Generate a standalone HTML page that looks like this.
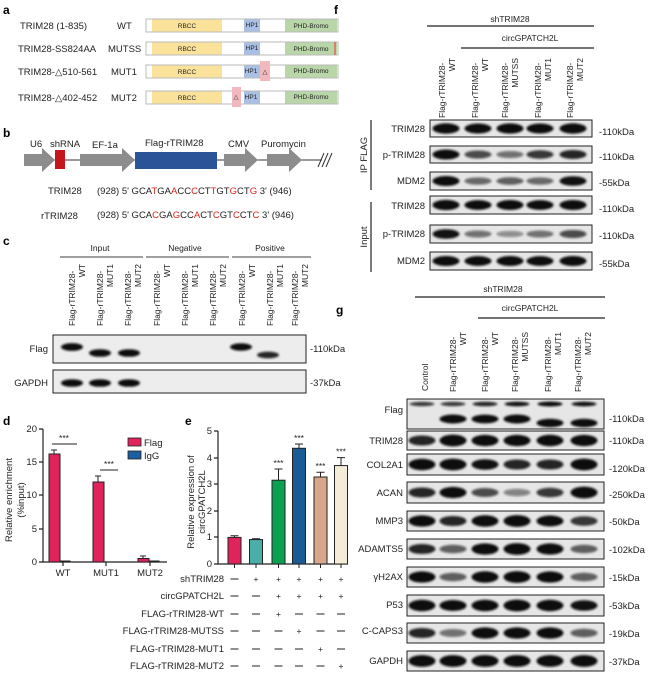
<!DOCTYPE html>
<html><head><meta charset="utf-8"><style>
html,body{margin:0;padding:0;background:#fff}
svg{display:block;font-family:"Liberation Sans",Arial,sans-serif}
.t{font-size:9.5px;fill:#222}
.s{font-size:8.5px;fill:#222}
.L{font-size:12px;font-weight:bold;fill:#000}
.r{text-anchor:end}
.m{text-anchor:middle}
</style></head><body>
<svg id="S" width="649" height="675" viewBox="0 0 649 675" xmlns="http://www.w3.org/2000/svg">
<defs><filter id="bl" x="-20%" y="-50%" width="140%" height="200%"><feGaussianBlur stdDeviation="1.1"/></filter></defs>
<!-- panel a -->
<text class="L" x="3" y="14">a</text>
<g class="t">
<text x="20" y="29">TRIM28 (1-835)</text><text x="117" y="29">WT</text>
<text x="18" y="52">TRIM28-SS824AA</text><text x="108" y="52">MUTSS</text>
<text x="18" y="75">TRIM28-△510-561</text><text x="111" y="75">MUT1</text>
<text x="18" y="101">TRIM28-△402-452</text><text x="111" y="101">MUT2</text>
</g>
<g>
<rect x="146" y="19" width="192" height="13" fill="#fff" stroke="#bbb"/>
<rect x="152" y="19.5" width="70" height="12" fill="#fbe29b"/><rect x="244" y="19.5" width="16" height="12" fill="#a9bfe3"/><rect x="285" y="19.5" width="52" height="12" fill="#b8d6a8"/>
<rect x="146" y="42" width="192" height="13" fill="#fff" stroke="#bbb"/>
<rect x="152" y="42.5" width="70" height="12" fill="#fbe29b"/><rect x="244" y="42.5" width="16" height="12" fill="#a9bfe3"/><rect x="285" y="42.5" width="52" height="12" fill="#b8d6a8"/>
<line x1="335" y1="42" x2="335" y2="55" stroke="#e33" stroke-width="1"/>
<rect x="146" y="65" width="192" height="13" fill="#fff" stroke="#bbb"/>
<rect x="152" y="65.5" width="70" height="12" fill="#fbe29b"/><rect x="244" y="65.5" width="16" height="12" fill="#a9bfe3"/><rect x="285" y="65.5" width="52" height="12" fill="#b8d6a8"/>
<rect x="260" y="61" width="10" height="20" fill="#f1b8bd"/>
<rect x="146" y="91" width="192" height="13" fill="#fff" stroke="#bbb"/>
<rect x="152" y="91.5" width="70" height="12" fill="#fbe29b"/><rect x="244" y="91.5" width="16" height="12" fill="#a9bfe3"/><rect x="285" y="91.5" width="52" height="12" fill="#b8d6a8"/>
<rect x="232" y="87" width="9" height="20" fill="#f1b8bd"/>
</g>
<g class="s m" style="font-size:6.5px">
<text x="187" y="28">RBCC</text><text x="252" y="27">HP1</text><text x="311" y="28">PHD-Bromo</text>
<text x="187" y="51">RBCC</text><text x="252" y="50">HP1</text><text x="311" y="51">PHD-Bromo</text>
<text x="187" y="74">RBCC</text><text x="251" y="73">HP1</text><text x="265" y="74">△</text><text x="311" y="73">PHD-Bromo</text>
<text x="187" y="100">RBCC</text><text x="236" y="99">△</text><text x="251" y="99">HP1</text><text x="311" y="99">PHD-Bromo</text>
</g>
<!-- panel b -->
<text class="L" x="3" y="137">b</text>
<line x1="24" y1="160" x2="322" y2="160" stroke="#333" stroke-width="1"/>
<path d="M318 167 L324 153 M322 167 L328 153 M326 167 L332 153" stroke="#333" fill="none"/>
<g fill="#8c8c8c">
<path d="M24 154 H42 V148 L55 160 L42 172 V166 H24 Z"/>
<path d="M80 154 H122 V148 L135 160 L122 172 V166 H80 Z"/>
<path d="M224 154 H245 V148 L258 160 L245 172 V166 H224 Z"/>
<path d="M267 154 H289 V148 L302 160 L289 172 V166 H267 Z"/>
</g>
<rect x="55" y="150" width="10" height="19" fill="#c4161c"/>
<rect x="135" y="152" width="82" height="17" fill="#2b5398"/>
<g class="t" style="font-size:9.5px">
<text x="30" y="147">U6</text><text x="50" y="147">shRNA</text><text x="92" y="148">EF-1a</text><text x="145" y="146">Flag-rTRIM28</text><text x="228" y="147">CMV</text><text x="261" y="147">Puromycin</text>
<text x="48" y="194">TRIM28</text>
<text x="97" y="194">(928) 5' GCA<tspan fill="#e2231a">T</tspan>GA<tspan fill="#e2231a">A</tspan>CC<tspan fill="#e2231a">C</tspan>CT<tspan fill="#e2231a">T</tspan>GT<tspan fill="#e2231a">G</tspan>CT<tspan fill="#e2231a">G</tspan> 3' (946)</text>
<text x="41" y="219">rTRIM28</text>
<text x="97" y="218">(928) 5' GCA<tspan fill="#e2231a">C</tspan>GA<tspan fill="#e2231a">G</tspan>CC<tspan fill="#e2231a">A</tspan>CT<tspan fill="#e2231a">C</tspan>GT<tspan fill="#e2231a">C</tspan>CT<tspan fill="#e2231a">C</tspan> 3' (946)</text>
</g>
<!-- panel c -->
<text class="L" x="3" y="245">c</text>
<g class="s m"><text x="100" y="251">Input</text><text x="185" y="251">Negative</text><text x="270" y="251">Positive</text></g>
<g stroke="#666" stroke-width="1.2"><line x1="60" y1="257" x2="143" y2="257"/><line x1="146" y1="257" x2="229" y2="257"/><line x1="232" y1="257" x2="311" y2="257"/></g>
<g class="s">
<text transform="translate(75,326) rotate(-90)">Flag-rTRIM28-</text><text class="r" transform="translate(85,326) rotate(-90)" x="62">WT</text>
<text transform="translate(103,326) rotate(-90)">Flag-rTRIM28-</text><text class="r" transform="translate(113,326) rotate(-90)" x="62">MUT1</text>
<text transform="translate(131,326) rotate(-90)">Flag-rTRIM28-</text><text class="r" transform="translate(141,326) rotate(-90)" x="62">MUT2</text>
<text transform="translate(160,326) rotate(-90)">Flag-rTRIM28-</text><text class="r" transform="translate(170,326) rotate(-90)" x="62">WT</text>
<text transform="translate(188,326) rotate(-90)">Flag-rTRIM28-</text><text class="r" transform="translate(198,326) rotate(-90)" x="62">MUT1</text>
<text transform="translate(216,326) rotate(-90)">Flag-rTRIM28-</text><text class="r" transform="translate(226,326) rotate(-90)" x="62">MUT2</text>
<text transform="translate(245,326) rotate(-90)">Flag-rTRIM28-</text><text class="r" transform="translate(255,326) rotate(-90)" x="62">WT</text>
<text transform="translate(273,326) rotate(-90)">Flag-rTRIM28-</text><text class="r" transform="translate(283,326) rotate(-90)" x="62">MUT1</text>
<text transform="translate(298,326) rotate(-90)">Flag-rTRIM28-</text><text class="r" transform="translate(308,326) rotate(-90)" x="62">MUT2</text>
</g>
<g class="t"><text class="r" x="48" y="352">Flag</text><text class="r" x="48" y="386">GAPDH</text><text x="310" y="352">-110kDa</text><text x="310" y="386">-37kDa</text></g>
<rect x="53" y="335" width="253" height="28" fill="#ededed" stroke="#222"/>
<rect x="53" y="370" width="253" height="23" fill="#ededed" stroke="#222"/>
<g id="bands"></g>
<!-- panel d -->
<text class="L" x="3" y="425">d</text>
<g stroke="#222" stroke-width="1.2" fill="none">
<path d="M43 429 V562 H167"/>
<path d="M39 429 H43 M39 462 H43 M39 495 H43 M39 529 H43 M39 562 H43"/>
<path d="M63 562 V566 M106 562 V566 M150 562 V566"/>
</g>
<g class="t r"><text x="37" y="432">20</text><text x="37" y="465">15</text><text x="37" y="498">10</text><text x="37" y="532">5</text><text x="37" y="565">0</text></g>
<g class="t m"><text x="63" y="576">WT</text><text x="106" y="576">MUT1</text><text x="150" y="576">MUT2</text></g>
<text class="t m" transform="translate(12,500) rotate(-90)">Relative enrichment</text>
<text class="t m" transform="translate(24,500) rotate(-90)">(%input)</text>
<g stroke="#222" stroke-width="1">
<rect x="49" y="454" width="11" height="108" fill="#e0235a"/>
<rect x="60" y="561" width="10" height="1" fill="#1c5fa0"/>
<rect x="93" y="482" width="11" height="80" fill="#e0235a"/>
<rect x="138" y="558.5" width="11" height="3.5" fill="#e0235a"/>
<rect x="149" y="561" width="10" height="1" fill="#1c5fa0"/>
<path d="M54 454 V450 M51 450 H57 M98 482 V476 M95 476 H101 M143 558 V556 M140 556 H146" fill="none"/>
<line x1="52" y1="444" x2="77" y2="444"/><line x1="100" y1="470" x2="118" y2="470"/>
</g>
<g class="s m"><text x="64" y="441">***</text><text x="109" y="467">***</text></g>
<rect x="128" y="438" width="13" height="8" fill="#e0235a" stroke="#222" stroke-width=".8"/><text class="t" x="144" y="446">Flag</text>
<rect x="128" y="451" width="13" height="8" fill="#1c5fa0" stroke="#222" stroke-width=".8"/><text class="t" x="144" y="459">IgG</text>
<!-- panel e -->
<text class="L" x="185" y="425">e</text>
<g stroke="#222" stroke-width="1.2" fill="none">
<path d="M218 431 V564 H348"/>
<path d="M214 431 H218 M214 458 H218 M214 484 H218 M214 511 H218 M214 537 H218 M214 564 H218"/>
</g>
<g class="t r"><text x="212" y="434">5</text><text x="212" y="461">4</text><text x="212" y="487">3</text><text x="212" y="514">2</text><text x="212" y="540">1</text><text x="212" y="567">0</text></g>
<text class="t m" transform="translate(194,502) rotate(-90)">Relative expression of</text>
<text class="t m" transform="translate(205,502) rotate(-90)">circGPATCH2L</text>
<g id="ebars" stroke="#222" stroke-width="1"></g>
<g class="t r"><text x="224" y="582">shTRIM28</text><text x="224" y="599">circGPATCH2L</text><text x="224" y="617">FLAG-rTRIM28-WT</text><text x="224" y="634">FLAG-rTRIM28-MUTSS</text><text x="224" y="652">FLAG-rTRIM28-MUT1</text><text x="224" y="669">FLAG-rTRIM28-MUT2</text></g>
<g id="pm" class="s m"></g>
<!-- panel f -->
<text class="L" x="334" y="14">f</text>
<g class="s m"><text x="510" y="22">shTRIM28</text><text x="530" y="41">circGPATCH2L</text></g>
<g stroke="#222" stroke-width="1.2"><line x1="427" y1="26" x2="594" y2="26"/><line x1="461" y1="48" x2="594" y2="48"/></g>
<g class="s">
<text transform="translate(445,118) rotate(-90)">Flag-rTRIM28-</text><text class="r" transform="translate(455,118) rotate(-90)" x="60">WT</text>
<text transform="translate(478,118) rotate(-90)">Flag-rTRIM28-</text><text class="r" transform="translate(488,118) rotate(-90)" x="60">WT</text>
<text transform="translate(508,118) rotate(-90)">Flag-rTRIM28-</text><text class="r" transform="translate(518,118) rotate(-90)" x="60">MUTSS</text>
<text transform="translate(541,118) rotate(-90)">Flag-rTRIM28-</text><text class="r" transform="translate(551,118) rotate(-90)" x="60">MUT1</text>
<text transform="translate(573,118) rotate(-90)">Flag-rTRIM28-</text><text class="r" transform="translate(583,118) rotate(-90)" x="60">MUT2</text>
</g>
<g stroke="#222" stroke-width="1.2"><line x1="371" y1="120" x2="371" y2="190"/><line x1="371" y1="202" x2="371" y2="272"/></g>
<text class="t m" transform="translate(367,155) rotate(-90)">IP FLAG</text>
<text class="t m" transform="translate(367,237) rotate(-90)">Input</text>
<g class="t r"><text x="425" y="132">TRIM28</text><text x="425" y="158">p-TRIM28</text><text x="425" y="184">MDM2</text><text x="425" y="209">TRIM28</text><text x="425" y="237">p-TRIM28</text><text x="425" y="264">MDM2</text></g>
<g class="t"><text x="599" y="135">-110kDa</text><text x="599" y="160">-110kDa</text><text x="599" y="186">-55kDa</text><text x="599" y="212">-110kDa</text><text x="599" y="239">-110kDa</text><text x="599" y="267">-55kDa</text></g>
<g id="fblots"></g>
<!-- panel g -->
<text class="L" x="336" y="314">g</text>
<g class="s m"><text x="503" y="292">shTRIM28</text><text x="530" y="311">circGPATCH2L</text></g>
<g stroke="#222" stroke-width="1.2"><line x1="415" y1="297" x2="605" y2="297"/><line x1="478" y1="318" x2="605" y2="318"/></g>
<g class="s">
<text transform="translate(428,391) rotate(-90)">Control</text>
<text transform="translate(456,392) rotate(-90)">Flag-rTRIM28-</text><text class="r" transform="translate(466,392) rotate(-90)" x="60">WT</text>
<text transform="translate(488,392) rotate(-90)">Flag-rTRIM28-</text><text class="r" transform="translate(498,392) rotate(-90)" x="60">WT</text>
<text transform="translate(518,392) rotate(-90)">Flag-rTRIM28-</text><text class="r" transform="translate(528,392) rotate(-90)" x="60">MUTSS</text>
<text transform="translate(551,392) rotate(-90)">Flag-rTRIM28-</text><text class="r" transform="translate(561,392) rotate(-90)" x="60">MUT1</text>
<text transform="translate(581,392) rotate(-90)">Flag-rTRIM28-</text><text class="r" transform="translate(591,392) rotate(-90)" x="60">MUT2</text>
</g>
<g class="t r"><text x="403" y="413">Flag</text><text x="403" y="444">TRIM28</text><text x="403" y="468">COL2A1</text><text x="403" y="496">ACAN</text><text x="403" y="524">MMP3</text><text x="403" y="552">ADAMTS5</text><text x="403" y="580">γH2AX</text><text x="403" y="608">P53</text><text x="403" y="634">C-CAPS3</text><text x="403" y="664">GAPDH</text></g>
<g class="t"><text x="609" y="422">-110kDa</text><text x="609" y="444">-110kDa</text><text x="609" y="472">-120kDa</text><text x="609" y="498">-250kDa</text><text x="609" y="525">-50kDa</text><text x="609" y="553">-102kDa</text><text x="609" y="581">-15kDa</text><text x="609" y="609">-53kDa</text><text x="609" y="637">-19kDa</text><text x="609" y="665">-37kDa</text></g>
<g id="gblots"></g>
</svg>
<script>
var NS="http://www.w3.org/2000/svg";
function el(p,t,a){var e=document.createElementNS(NS,t);for(var k in a)e.setAttribute(k,a[k]);p.appendChild(e);return e;}
function band(p,cx,cy,w,h,i){if(i<=0)return;el(p,"ellipse",{cx:cx,cy:cy,rx:w/2,ry:h/2*(0.7+0.6*i),fill:"#111","fill-opacity":Math.min(1,0.3+0.85*i),filter:"url(#bl)"});}
var B=document.getElementById("bands");
[[72,347,1],[100,353,.95],[129,353,.95],[241,347,.9],[268,355,.7]].forEach(function(b){band(B,b[0],b[1],22,6,b[2]);});
[72,100,129].forEach(function(x){band(B,x,383,22,6,.95);});
var F=document.getElementById("fblots");var fl=[446,478,510,540,573];
var fr=[[120,137,[1,.9,.95,.9,1]],[146,163,[.9,.5,.3,.6,.7]],[172,190,[.9,.35,.4,.35,.8]],[196,214,[.95,.85,.9,.85,.9]],[225,243,[.8,.3,.15,.3,.5]],[252,270,[.9,.85,.9,.85,.9]]];
fr.forEach(function(r){el(F,"rect",{x:430,y:r[0],width:162,height:r[1]-r[0],fill:"#e6e6e6",stroke:"#222"});var cy=(r[0]+r[1])/2;r[2].forEach(function(v,i){band(F,fl[i],cy,27,8,v);});});
var G=document.getElementById("gblots");var gl=[422,453,485,517,550,584];
var gr=[[399,429,null],[431,450,[.7,1,.9,.9,.95,.9]],[454,475,[.95,1,.8,.7,.7,1]],[482,503,[.7,.9,.5,.2,.6,1]],[511,531,[.9,.7,.95,1,.85,.6]],[539,559,[.7,.4,.9,1,.9,.4]],[567,587,[.9,.4,.95,1,.9,.4]],[595,616,[.95,.85,.95,1,.95,.8]],[623,643,[.7,.3,.9,.9,.9,.4]],[651,671,[1,1,1,1,1,1]]];
gr.forEach(function(r){el(G,"rect",{x:407,y:r[0],width:197,height:r[1]-r[0],fill:"#e6e6e6",stroke:"#222"});var cy=(r[0]+r[1])/2;
 if(r[2])r[2].forEach(function(v,i){band(G,gl[i],cy,27,9,v);});
 else{[.6,.6,.7,.8,.9,.8].forEach(function(v,i){band(G,gl[i],404,25,4,v);});[0,.95,.9,.95,.85,.85].forEach(function(v,i){band(G,gl[i],i>=4?423:419,27,7,v);});}});
var E=document.getElementById("ebars");var cx=[234.5,256,278.5,299,320.5,341];var vals=[1,.92,3.15,4.35,3.27,3.7];var err=[.06,.03,.42,.16,.18,.3];
var col=["#e0235a","#4aada8","#0aa050","#1a5b96","#d8a78a","#f2ecd8"];var k=26.6,y0=564;
cx.forEach(function(c,i){var top=y0-vals[i]*k;el(E,"rect",{x:c-6.5,y:top,width:13,height:vals[i]*k,fill:col[i]});var et=top-err[i]*k;
el(E,"path",{d:"M"+c+" "+top+" V"+et+" M"+(c-4)+" "+et+" H"+(c+4),fill:"none"});el(E,"path",{d:"M"+c+" 564 V568",fill:"none"});
if(i>=2){var t=el(document.getElementById("S"),"text",{x:c,y:et-3,"class":"s m"});t.textContent="***";}});
var P=document.getElementById("pm");var rows=[[0,1,1,1,1,1],[0,0,1,1,1,1],[0,0,1,0,0,0],[0,0,0,1,0,0],[0,0,0,0,1,0],[0,0,0,0,0,1]];var ry=[580,597,615,632,650,667];
rows.forEach(function(r,j){r.forEach(function(v,i){if(v){var t=el(P,"text",{x:cx[i],y:ry[j]+2});t.textContent="+";}else el(P,"line",{x1:cx[i]-4,x2:cx[i]+4,y1:ry[j]-1,y2:ry[j]-1,stroke:"#222","stroke-width":1});});});
</script>
</body></html>
